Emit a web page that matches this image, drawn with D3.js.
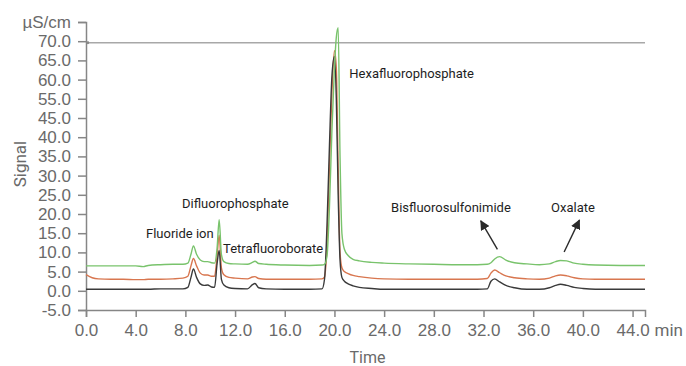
<!DOCTYPE html>
<html>
<head>
<meta charset="utf-8">
<script src="https://cdn.jsdelivr.net/npm/d3@7"></script>
<style>
  body { margin: 0; background: #fff; }
  svg { display: block; font-family: Roboto, "Liberation Sans", sans-serif; }
</style>
</head>
<body>
<div id="chart"></div>
<script>
// retention time (min) shared by the three traces
const times = [0, 0.5, 1, 2, 3, 4, 4.6, 5, 6, 7, 7.8, 8.2, 8.45, 8.65, 8.9, 9.2, 9.5, 9.8, 10.1, 10.35,
  10.55, 10.72, 10.9, 11.1, 11.5, 12, 13, 13.4, 13.6, 13.9, 14.5, 16, 18, 19, 19.2, 19.4, 19.6, 19.8, 20.0, 20.15,
  20.3, 20.45, 20.6, 20.8, 21.1, 21.5, 22, 23, 24, 26, 28, 30, 31.5, 32.3, 32.6, 32.9, 33.3, 33.8, 34.5, 35.5,
  36.5, 37.3, 37.8, 38.2, 38.7, 39.3, 40, 41, 43, 45];

const blackSignal = [0.4, 0.4, 0.4, 0.4, 0.4, 0.4, 0.4, 0.4, 0.5, 0.5, 0.5, 0.9, 3.5, 5.7, 3.5, 1.8, 1.4, 1.5, 1.0, 0.9,
  7.0, 10.5, 3.0, 1.5, 0.8, 0.6, 0.5, 1.6, 1.9, 0.8, 0.5, 0.4, 0.4, 0.5, 3.0, 17, 38, 56, 61, 50,
  25, 8, 3.5, 2.5, 1.8, 1.3, 0.9, 0.6, 0.4, 0.4, 0.4, 0.4, 0.4, 0.5, 2.5, 3.1, 2.3, 1.4, 0.8, 0.4,
  0.4, 0.8, 1.4, 1.7, 1.4, 0.9, 0.6, 0.4, 0.4, 0.4];

const redSignal = [4.2, 3.4, 3.1, 3.0, 3.0, 2.9, 2.9, 3.0, 3.0, 3.1, 3.3, 3.8, 6.5, 8.4, 6.5, 4.6, 4.1, 4.1, 3.8, 3.8,
  9.0, 14.5, 6.0, 4.2, 3.5, 3.3, 3.1, 3.6, 3.7, 3.2, 3.0, 3.0, 3.0, 3.1, 3.6, 12, 32, 52, 62.5, 58,
  32, 10, 6.0, 5.0, 4.5, 4.0, 3.7, 3.3, 3.1, 3.0, 3.0, 3.0, 3.0, 3.2, 4.6, 5.4, 4.7, 3.9, 3.4, 3.1,
  3.0, 3.3, 3.9, 4.1, 3.9, 3.4, 3.1, 3.0, 3.0, 3.0];

const greenSignal = [6.5, 6.5, 6.5, 6.5, 6.5, 6.5, 6.3, 6.6, 6.8, 6.9, 6.9, 7.2, 9.5, 11.7, 9.5, 8.0, 7.6, 7.6, 7.3, 7.2,
  11.0, 18.5, 9.5, 7.6, 7.1, 7.0, 6.9, 7.4, 7.7, 7.1, 6.9, 6.7, 6.6, 6.7, 6.9, 9, 22, 42, 58, 66,
  68.5, 35, 15, 10.8, 9.2, 8.2, 7.8, 7.4, 7.2, 7.0, 6.9, 6.8, 6.8, 6.9, 7.3, 8.3, 8.9, 8.0, 7.3, 7.0,
  6.8, 7.0, 7.6, 7.9, 7.8, 7.2, 6.9, 6.7, 6.6, 6.6];

// horizontal reference line
const refLineTimes = [0.15, 45];
const refLineValue = 64.6;

// y tick labels as printed on the original (no 50.0 label)
const yTickValues = [-5, 0, 5, 10, 15, 20, 25, 30, 35, 40, 45, 50, 55, 60, 65, 70];
const yTickLabels = ["-5.0", "0.0", "5.0", "10.0", "15.0", "20.0", "25.0", "30.0", "35.0", "40.0",
  "45.0", "55.0", "60.0", "65.0", "70.0", "\u00b5S/cm"];
const xTickValues = [0, 4, 8, 12, 16, 20, 24, 28, 32, 36, 40, 44];

const peakNames = ["Fluoride ion", "Difluorophosphate", "Tetrafluoroborate", "Hexafluorophosphate", "Bisfluorosulfonimide", "Oxalate"];
const peakLabelTimes = [4.83, 7.73, 11.03, 21.2, 24.56, 37.44];
const peakLabelValues = [13.8, 21.5, 9.9, 55.3, 20.6, 20.6];

const arrowFrom = [[33.12, 10.8], [38.49, 10.1]];
const arrowTo = [[31.78, 18.2], [39.72, 18.4]];

const W = 686, H = 366;
const margin = { top: 22, right: 41, bottom: 56, left: 86 };

const svg = d3.select("#chart")
  .append("svg")
  .attr("width", W)
  .attr("height", H);

const x = d3.scaleLinear()
  .domain([0, 45])
  .range([margin.left, W - margin.right]);

const y = d3.scaleLinear()
  .domain([-5, 70])
  .range([H - margin.bottom, margin.top]);

const axisColor = "#868686";
const labelColor = "#6a6a6a";
const tickFont = "17px";

// x axis
const gx = svg.append("g")
  .attr("transform", `translate(0,${y(-5)})`)
  .call(d3.axisBottom(x).tickValues(xTickValues).tickSizeOuter(0).tickSize(7).tickPadding(7)
    .tickFormat(d3.format(".1f")));
gx.select(".domain").attr("stroke", axisColor).attr("stroke-width", 1.5);
gx.selectAll(".tick line").attr("stroke", axisColor).attr("stroke-width", 1.5);
gx.selectAll(".tick text").attr("fill", labelColor).style("font-size", tickFont);

svg.append("text")
  .attr("x", x(44) + 22)
  .attr("y", y(-5) + 7 + 7)
  .attr("dy", "0.71em")
  .attr("fill", labelColor)
  .style("font-size", tickFont)
  .text("min");

// y axis
const gy = svg.append("g")
  .attr("transform", `translate(${x(0)},0)`)
  .call(d3.axisLeft(y).tickValues(yTickValues).tickSizeOuter(0).tickSize(8).tickPadding(7)
    .tickFormat((d, i) => yTickLabels[i]));
gy.select(".domain").attr("stroke", axisColor).attr("stroke-width", 1.5);
gy.selectAll(".tick line").attr("stroke", axisColor).attr("stroke-width", 1.5);
gy.selectAll(".tick text").attr("fill", labelColor).style("font-size", tickFont);

// axis titles
svg.append("text")
  .attr("x", (x(0) + x(45)) / 2 + 2)
  .attr("y", H - 3)
  .attr("text-anchor", "middle")
  .attr("fill", labelColor)
  .style("font-size", "16px")
  .text("Time");

svg.append("text")
  .attr("transform", `translate(26,${y(33)}) rotate(-90)`)
  .attr("text-anchor", "middle")
  .attr("fill", labelColor)
  .style("font-size", "17px")
  .text("Signal");

// reference line
svg.append("line")
  .attr("x1", x(refLineTimes[0]))
  .attr("x2", x(refLineTimes[1]))
  .attr("y1", y(refLineValue))
  .attr("y2", y(refLineValue))
  .attr("stroke", "#a8a8a8")
  .attr("stroke-width", 1.5);
svg.append("circle")
  .attr("cx", x(refLineTimes[0]))
  .attr("cy", y(refLineValue))
  .attr("r", 1.4)
  .attr("fill", "#888");

// traces (red under black so the black flank shows on the main peak)
const line = d3.line()
  .x((d, i) => x(times[i]))
  .y(d => y(d))
  .curve(d3.curveMonotoneX);

const traces = [
  { values: redSignal, color: "#d8764f" },
  { values: blackSignal, color: "#3a3a3a" },
  { values: greenSignal, color: "#79c36c" }
];

svg.selectAll(".trace")
  .data(traces)
  .enter().append("path")
  .attr("class", "trace")
  .attr("fill", "none")
  .attr("stroke", d => d.color)
  .attr("stroke-width", 1.4)
  .attr("stroke-linejoin", "round")
  .attr("d", d => line(d.values));

// peak names
svg.selectAll(".peak-label")
  .data(peakNames)
  .enter().append("text")
  .attr("class", "peak-label")
  .attr("x", (d, i) => x(peakLabelTimes[i]))
  .attr("y", (d, i) => y(peakLabelValues[i]))
  .attr("fill", "#1e1e1e")
  .style("font-size", "13px")
  .text(d => d);

// arrows
svg.append("defs").append("marker")
  .attr("id", "arrowhead")
  .attr("viewBox", "0 0 10 10")
  .attr("refX", 9)
  .attr("refY", 5)
  .attr("markerWidth", 7)
  .attr("markerHeight", 7)
  .attr("markerUnits", "strokeWidth")
  .attr("orient", "auto")
  .append("path")
  .attr("d", "M0,0L10,5L0,10z")
  .attr("fill", "#2a2a2a");

svg.selectAll(".arrow")
  .data(arrowFrom)
  .enter().append("line")
  .attr("class", "arrow")
  .attr("x1", d => x(d[0]))
  .attr("y1", d => y(d[1]))
  .attr("x2", (d, i) => x(arrowTo[i][0]))
  .attr("y2", (d, i) => y(arrowTo[i][1]))
  .attr("stroke", "#2a2a2a")
  .attr("stroke-width", 1.4)
  .attr("marker-end", "url(#arrowhead)");
</script>
</body>
</html>
